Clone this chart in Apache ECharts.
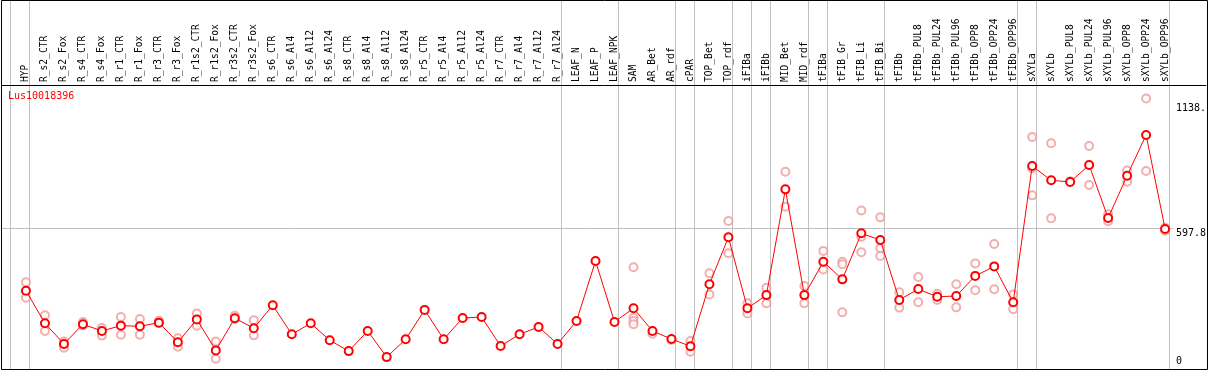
<!DOCTYPE html>
<html><head><meta charset="utf-8">
<script src="https://cdn.jsdelivr.net/npm/echarts@6/dist/echarts.min.js"></script>
<style>html,body{margin:0;padding:0;background:#fff}#c{width:1209px;height:370px}</style>
</head><body><div id="c"></div>
<script>
const categories = ['HYP','R_s2_CTR','R_s2_Fox','R_s4_CTR','R_s4_Fox','R_r1_CTR','R_r1_Fox','R_r3_CTR','R_r3_Fox',
  'R_r1s2_CTR','R_r1s2_Fox','R_r3s2_CTR','R_r3s2_Fox','R_s6_CTR','R_s6_Al4','R_s6_Al12','R_s6_Al24',
  'R_s8_CTR','R_s8_Al4','R_s8_Al12','R_s8_Al24','R_r5_CTR','R_r5_Al4','R_r5_Al12','R_r5_Al24',
  'R_r7_CTR','R_r7_Al4','R_r7_Al12','R_r7_Al24','LEAF_N','LEAF_P','LEAF_NPK','SAM','AR_Bet','AR_rdf',
  'cPAR','TOP_Bet','TOP_rdf','iFIBa','iFIBb','MID_Bet','MID_rdf','tFIBa','tFIB_Gr','tFIB_Li','tFIB_Bi',
  'tFIBb','tFIBb_PUL8','tFIBb_PUL24','tFIBb_PUL96','tFIBb_OPP8','tFIBb_OPP24','tFIBb_OPP96',
  'sXYLa','sXYLb','sXYLb_PUL8','sXYLb_PUL24','sXYLb_PUL96','sXYLb_OPP8','sXYLb_OPP24','sXYLb_OPP96'];

const means = [328,187,98,183,154,177,174,190,105,204,70,209,166,265,140,187,114,67,154,41,118,245,118,210,214,
  89,140,171,98,197,456,193,252,154,119,88,356,559,252,309,766,309,453,377,576,547,
  288,335,302,305,392,433,278,867,805,798,871,642,825,1001,595];

const replicates = [[0,364],[0,298],[1,222],[1,154],[2,108],[2,82],[3,193],[3,178],[4,167],[4,134],
  [5,214],[5,138],[6,206],[6,138],[7,198],[7,188],[8,122],[8,86],[9,229],[9,177],[10,109],[10,34],
  [11,220],[11,206],[12,200],[12,135],
  [32,429],[32,211],[32,197],[32,183],[33,142],[34,115],[35,111],[35,64],[36,403],[36,312],
  [37,629],[37,490],[38,274],[38,230],[39,341],[39,274],[40,842],[40,691],[41,348],[41,274],
  [42,500],[42,420],[43,453],[43,442],[43,235],[44,675],[44,561],[44,494],[45,645],[45,511],[45,478],
  [46,321],[46,255],[47,387],[47,278],[48,315],[48,288],[49,356],[49,256],[50,446],[50,330],
  [51,530],[51,334],[52,312],[52,248],[53,992],[53,857],[53,740],[54,965],[54,641],[55,801],
  [56,953],[56,785],[57,658],[57,628],[58,847],[58,799],[59,1159],[59,845],[60,600],[60,587]];

const groupStarts = [0,1,29,32,35,36,38,39,40,42,43,46,53,54,61];
const yTickValues = [1138, 597.8];
const yTickTexts = ['1138.', '597.8'];
const yZeroValues = [0];
const gridValue = 597.8;

const X_MIN = -1.289, X_MAX = 62.15, Y_MAX = 1217;
const GROUP_LINE_OFFSET = 0.79;
const GRID_LINE_END = 60.44;
const mono = 'DejaVu Sans Mono';

const chart = echarts.init(document.getElementById('c'), null, {renderer: 'canvas'});
chart.setOption({
  animation: false,
  title: {text: 'Lus10018396', left: 8, top: 91, padding: 0,
    textStyle: {color: '#ff0000', fontFamily: mono, fontSize: 10, fontWeight: 'normal'}},
  grid: {left: 1.5, right: 1.5, top: 85, bottom: 3.4},
  xAxis: {type: 'value', position: 'top', min: X_MIN, max: X_MAX,
    axisLine: {show: true, onZero: false, lineStyle: {color: '#000', width: 1}},
    axisTick: {show: false}, splitLine: {show: false},
    axisLabel: {customValues: categories.map((_, i) => i), rotate: -90, margin: 3,
      fontFamily: mono, fontSize: 9.6, color: '#000',
      formatter: v => categories[Math.round(v)]}},
  yAxis: [
    {type: 'value', position: 'right', min: 0, max: Y_MAX,
      axisLine: {show: false}, axisTick: {show: false}, splitLine: {show: false},
      axisLabel: {inside: true, customValues: yTickValues, align: 'left', margin: 30,
        verticalAlign: 'top', fontFamily: mono, fontSize: 10, color: '#000',
        formatter: v => yTickTexts[yTickValues.indexOf(v)]}},
    {type: 'value', position: 'right', min: 0, max: Y_MAX,
      axisLine: {show: false}, axisTick: {show: false}, splitLine: {show: false},
      axisLabel: {inside: true, customValues: yZeroValues, align: 'left', margin: 30,
        verticalAlign: 'bottom', fontFamily: mono, fontSize: 10, color: '#000'}}
  ],
  graphic: [{type: 'rect', z: 100, silent: true,
    shape: {x: 1.5, y: 0.5, width: 1206, height: 369},
    style: {fill: null, stroke: '#000', lineWidth: 1}}],
  series: [
    {type: 'custom', clip: false, silent: true, z: 0,
      data: groupStarts.map(g => [g - GROUP_LINE_OFFSET, 0]),
      renderItem: (params, api) => {
        const x = Math.floor(api.coord([api.value(0), 0])[0]) + 0.5;
        return {type: 'line', shape: {x1: x, y1: 0, x2: x, y2: 370},
          style: {stroke: '#c0c0c0', lineWidth: 1}};
      }},
    {type: 'scatter', z: 2, silent: true, data: replicates,
      symbol: 'emptyCircle', symbolSize: 8,
      itemStyle: {color: '#f09a9a', borderColor: '#f09a9a', borderWidth: 1.4},
      markLine: {silent: true, symbol: 'none', label: {show: false}, z: 1,
        lineStyle: {color: '#c0c0c0', type: 'solid', width: 1},
        data: [[{coord: [X_MIN, gridValue]}, {coord: [GRID_LINE_END, gridValue]}]]}},
    {type: 'line', z: 3, silent: true, data: means.map((v, i) => [i, v]),
      symbol: 'emptyCircle', symbolSize: 8,
      lineStyle: {color: '#ff0000', width: 1},
      itemStyle: {color: '#ff0000', borderColor: '#ff0000', borderWidth: 1.6}}
  ]
});
</script></body></html>
